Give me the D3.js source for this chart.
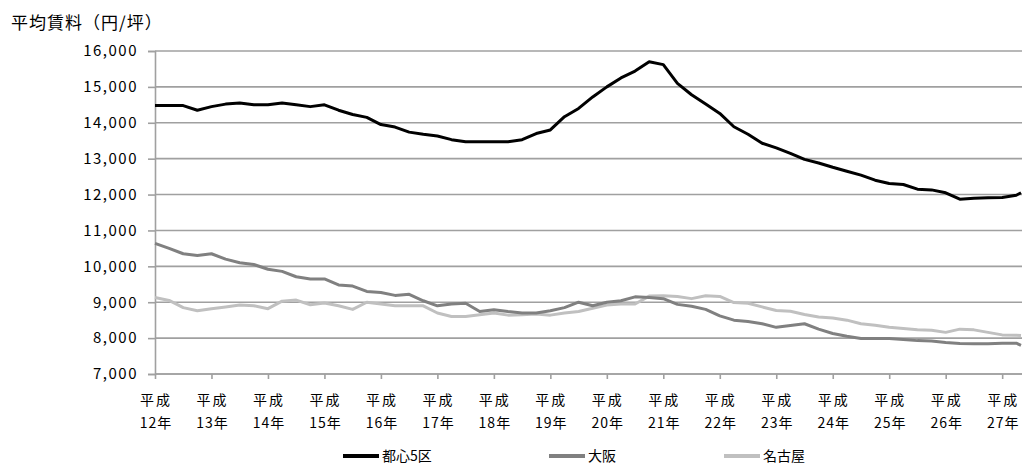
<html>
<head>
    <meta charset="utf-8">
    <script src="https://cdn.jsdelivr.net/npm/d3@7"></script>
    <style>
        body { margin: 0; background: #fff; }
        text { font-family: "Noto Sans CJK JP", "Noto Sans", sans-serif; fill: #000; }
    </style>
</head>
<body>
    <script>
        // quarterly readings from 平成12年1月, last point = end of series
        var tokyo = [14480, 14480, 14480, 14350, 14450, 14520, 14550, 14500, 14500, 14550,
                     14500, 14450, 14500, 14350, 14230, 14150, 13950, 13880, 13740, 13680,
                     13630, 13530, 13470, 13470, 13470, 13470, 13530, 13700, 13800, 14170,
                     14400, 14720, 15000, 15250, 15440, 15700, 15620, 15100, 14780, 14520,
                     14260, 13890, 13680, 13430, 13300, 13150, 12980, 12880, 12760, 12650,
                     12540, 12400, 12310, 12280, 12150, 12130, 12050, 11870, 11900, 11910,
                     11920, 11980, 12050];
        var osaka = [10640, 10500, 10350, 10300, 10350, 10200, 10100, 10050, 9920, 9860,
                     9710, 9650, 9650, 9480, 9450, 9300, 9270, 9190, 9220, 9040,
                     8900, 8950, 8970, 8740, 8790, 8740, 8700, 8700, 8760, 8850,
                     9000, 8900, 9000, 9040, 9150, 9130, 9100, 8940, 8890, 8800,
                     8620, 8500, 8460, 8400, 8300, 8350, 8400, 8250, 8130, 8050,
                     7990, 7990, 7990, 7960, 7930, 7920, 7880, 7850, 7840, 7840,
                     7860, 7860, 7800];
        var nagoya = [9130, 9050, 8850, 8760, 8820, 8870, 8920, 8900, 8820, 9030,
                      9060, 8930, 8980, 8900, 8800, 9000, 8950, 8900, 8900, 8900,
                      8700, 8600, 8600, 8650, 8700, 8640, 8650, 8670, 8640, 8700,
                      8740, 8830, 8920, 8950, 8950, 9170, 9180, 9160, 9100, 9180,
                      9160, 8990, 8970, 8870, 8770, 8750, 8660, 8590, 8560, 8500,
                      8400, 8360, 8300, 8270, 8230, 8220, 8160, 8250, 8230, 8160,
                      8090, 8080, 8070];
        var months = d3.range(0, 184, 3).concat([184]);
        var years = d3.range(12, 28);
        var seriesNames = ["都心5区", "大阪", "名古屋"];
        var seriesColors = ["#000000", "#808080", "#c0c0c0"];
        var yTicks = d3.range(7000, 16001, 1000);

        var width = 1024, height = 465;
        var svg = d3.select("body").append("svg").attr("width", width).attr("height", height);

        var x = d3.scaleLinear().domain([0, 184]).range([155, 1021]);
        var y = d3.scaleLinear().domain([7000, 16000]).range([374, 51]);

        // title
        svg.append("text").attr("x", 11).attr("y", 29)
            .attr("font-size", "17px").attr("letter-spacing", "1px").text("平均賃料（円/坪）");

        // grid lines
        svg.selectAll("line.grid").data(yTicks).enter().append("line")
            .attr("class", "grid")
            .attr("x1", 155).attr("x2", 1022)
            .attr("y1", function(d) { return y(d); })
            .attr("y2", function(d) { return y(d); })
            .attr("stroke", "#a0a0a0").attr("stroke-width", 1.6);

        // y axis
        var yAxis = svg.append("g").attr("transform", "translate(155,0)")
            .call(d3.axisLeft(y).tickValues(yTicks).tickSize(7).tickPadding(10).tickFormat(d3.format(",")));
        yAxis.selectAll("path, line").attr("stroke", "#a0a0a0").attr("stroke-width", 1.6);
        yAxis.selectAll("text").attr("font-size", "15px").attr("letter-spacing", "1.5px")
            .style("font-family", "'Noto Sans CJK JP', sans-serif").attr("fill", "#000");

        // x axis
        var xAxis = svg.append("g").attr("transform", "translate(0,374)")
            .call(d3.axisBottom(x).tickValues(years.map(function(d) { return (d - 12) * 12; }))
                .tickSize(5).tickFormat(""));
        xAxis.select("path").attr("d", "M155,0H1022").attr("stroke", "#a0a0a0").attr("stroke-width", 1.6);
        xAxis.selectAll("line").attr("stroke", "#a0a0a0").attr("stroke-width", 1.6);

        var xl = svg.selectAll("g.xl").data(years).enter().append("g")
            .attr("class", "xl")
            .attr("transform", function(d) { return "translate(" + (x((d - 12) * 12) + 1) + ",0)"; });
        xl.append("text").attr("y", 405).attr("text-anchor", "middle")
            .attr("font-size", "14px").attr("letter-spacing", "2px").text("平成");
        xl.append("text").attr("y", 428).attr("text-anchor", "middle")
            .attr("font-size", "14px").attr("letter-spacing", "1px")
            .text(function(d) { return d + "年"; });

        // lines (draw light ones first)
        var line = d3.line()
            .x(function(d, i) { return x(months[i]); })
            .y(function(d) { return y(d); });
        var data = [tokyo, osaka, nagoya];
        [2, 1, 0].forEach(function(k) {
            svg.append("path").datum(data[k])
                .attr("d", line)
                .attr("fill", "none")
                .attr("stroke", seriesColors[k])
                .attr("stroke-width", 3)
                .attr("stroke-linejoin", "round");
        });

        // legend
        var legendX = [343, 549, 724];
        var lg = svg.selectAll("g.lg").data(seriesNames).enter().append("g")
            .attr("class", "lg")
            .attr("transform", function(d, i) { return "translate(" + legendX[i] + ",456)"; });
        lg.append("line").attr("x1", 0).attr("x2", 36).attr("y1", 0).attr("y2", 0)
            .attr("stroke", function(d, i) { return seriesColors[i]; })
            .attr("stroke-width", 4);
        lg.append("text").attr("x", 39).attr("y", 5).attr("font-size", "14px").text(function(d) { return d; });
    </script>
</body>
</html>
